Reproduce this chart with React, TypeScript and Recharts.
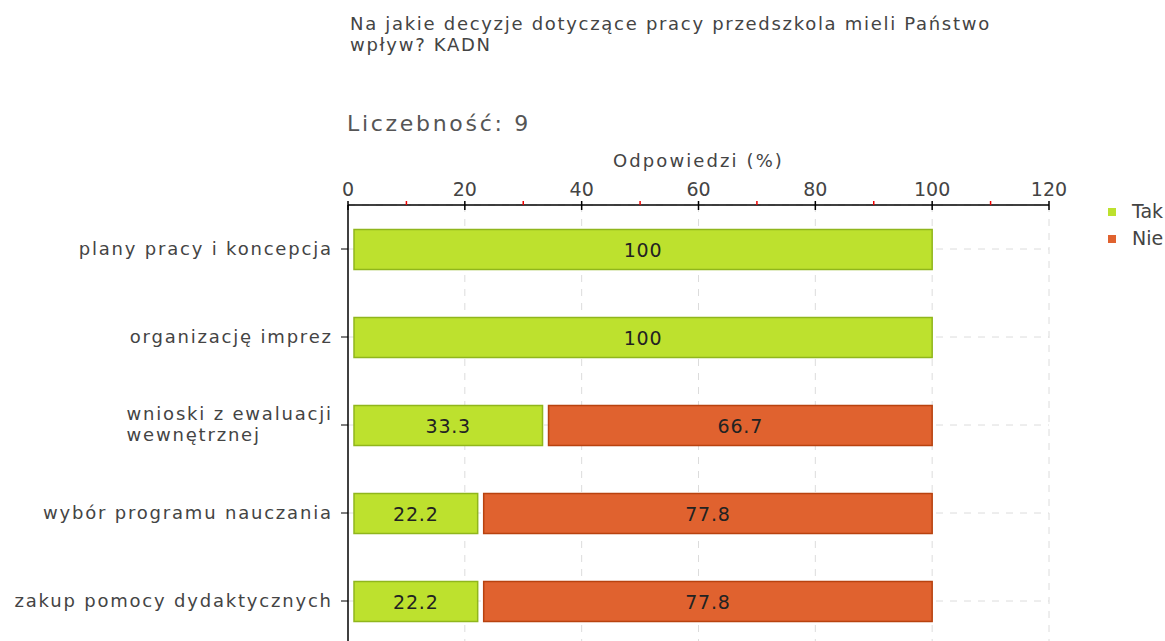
import React from 'react';
import { BarChart, Bar, XAxis, YAxis, CartesianGrid, LabelList, Label } from 'recharts';

const categories = [
  'plany pracy i koncepcja',
  'organizację imprez',
  'wnioski z ewaluacji\nwewnętrznej',
  'wybór programu nauczania',
  'zakup pomocy dydaktycznych',
];
const takValues = [100, 100, 33.3, 22.2, 22.2];
const nieValues = [0, 0, 66.7, 77.8, 77.8];
const xTicks = [0, 10, 20, 30, 40, 50, 60, 70, 80, 90, 100, 110, 120];
const gridValues = [20, 40, 60, 80, 100, 120];

const data = categories.map((name, i) => ({ name, tak: takValues[i], nie: nieValues[i] }));

const FONT = '"DejaVu Sans", Verdana, sans-serif';
const GREEN = '#bde12e';
const GREEN_EDGE = '#90b61c';
const ORANGE = '#e0622f';
const ORANGE_EDGE = '#b8420f';
const INSET = 6;

// bars start a few px after their value start, like the original
const makeShape = (fill: string, edge: string) => (props: any) => {
  const { x, y, width, height } = props;
  if (!width || width <= INSET) return <g />;
  return (
    <rect x={x + INSET} y={y + 0.5} width={width - INSET} height={height - 1}
      fill={fill} stroke={edge} strokeWidth={1.5} />
  );
};

const BarValue = (props: any) => {
  const { x, y, width, height, value } = props;
  if (!value) return null;
  return (
    <text x={x + INSET / 2 + width / 2} y={y + height / 2 + 7} textAnchor="middle"
      fontSize={19} letterSpacing={0.8} fill="#222" fontFamily={FONT}>
      {value}
    </text>
  );
};

const XTick = (props: any) => {
  const { x, y, payload } = props;
  const axisY = y + 9;
  const major = payload.value % 20 === 0;
  return (
    <g>
      {major ? (
        <>
          <line x1={x} x2={x} y1={axisY - 4} y2={axisY + 5} stroke="#000" strokeWidth={1.5} />
          <text x={x} y={y} textAnchor="middle" fontSize={19} fill="#444" fontFamily={FONT}>
            {payload.value}
          </text>
        </>
      ) : (
        <line x1={x} x2={x} y1={axisY - 4} y2={axisY} stroke="#e00" strokeWidth={1.5} />
      )}
    </g>
  );
};

const YTick = (props: any) => {
  const { x, y, payload } = props;
  const lines = String(payload.value).split('\n');
  const h = lines.length * 21;
  return (
    <foreignObject x={x - 345} y={y - h / 2 - 1} width={345} height={h + 4}>
      <div style={{ display: 'flex', justifyContent: 'flex-end' }}>
        <div style={{ textAlign: 'left', fontFamily: FONT, fontSize: 18, letterSpacing: 1.8,
          lineHeight: '21px', color: '#444', whiteSpace: 'nowrap', marginRight: -1.8 }}>
          {lines.map((l, i) => <div key={i}>{l}</div>)}
        </div>
      </div>
    </foreignObject>
  );
};

export default function App() {
  return (
    <div style={{ position: 'absolute', left: 0, top: 0, width: 1165, height: 641, overflow: 'hidden',
      background: '#fff', fontFamily: FONT }}>
      <div style={{ position: 'absolute', left: 350, top: 13, fontSize: 18, letterSpacing: 1.7,
        lineHeight: '21px', color: '#444', whiteSpace: 'nowrap' }}>
        Na jakie decyzje dotyczące pracy przedszkola mieli Państwo<br />wpływ? KADN
      </div>
      <div style={{ position: 'absolute', left: 347, top: 111, fontSize: 22, letterSpacing: 2.7, color: '#555' }}>
        Liczebność: 9
      </div>

      <div style={{ position: 'absolute', left: 0, top: 0 }}>
        <BarChart width={1165} height={660} data={data} layout="vertical"
          margin={{ top: 171, right: 116, bottom: 15, left: 0 }} barSize={41}>
          <CartesianGrid stroke="#dcdcdc" strokeDasharray="7 7" verticalValues={gridValues} />
          <XAxis type="number" orientation="top" domain={[0, 120]} ticks={xTicks} interval={0}
            height={34} tickSize={0} tickMargin={9} tickLine={false} tick={<XTick />}
            axisLine={{ stroke: '#000', strokeWidth: 1.5 }}>
            <Label value="Odpowiedzi (%)" position="top" offset={4} fontSize={18} letterSpacing={2.1}
              fill="#444" fontFamily={FONT} />
          </XAxis>
          <YAxis type="category" dataKey="name" width={348} tickSize={7} tickMargin={10}
            axisLine={{ stroke: '#000', strokeWidth: 1.5 }} tickLine={{ stroke: '#000' }} tick={<YTick />} />
          <Bar dataKey="tak" stackId="a" isAnimationActive={false} shape={makeShape(GREEN, GREEN_EDGE)}>
            <LabelList dataKey="tak" content={<BarValue />} />
          </Bar>
          <Bar dataKey="nie" stackId="a" isAnimationActive={false} shape={makeShape(ORANGE, ORANGE_EDGE)}>
            <LabelList dataKey="nie" content={<BarValue />} />
          </Bar>
        </BarChart>
      </div>

      <div style={{ position: 'absolute', left: 1108, top: 198, fontSize: 19, color: '#444', lineHeight: '27px' }}>
        <div style={{ display: 'flex', alignItems: 'center' }}>
          <span style={{ width: 8, height: 8, background: GREEN, display: 'inline-block', marginRight: 16 }} />Tak
        </div>
        <div style={{ display: 'flex', alignItems: 'center' }}>
          <span style={{ width: 8, height: 8, background: ORANGE, display: 'inline-block', marginRight: 16 }} />Nie
        </div>
      </div>
    </div>
  );
}
